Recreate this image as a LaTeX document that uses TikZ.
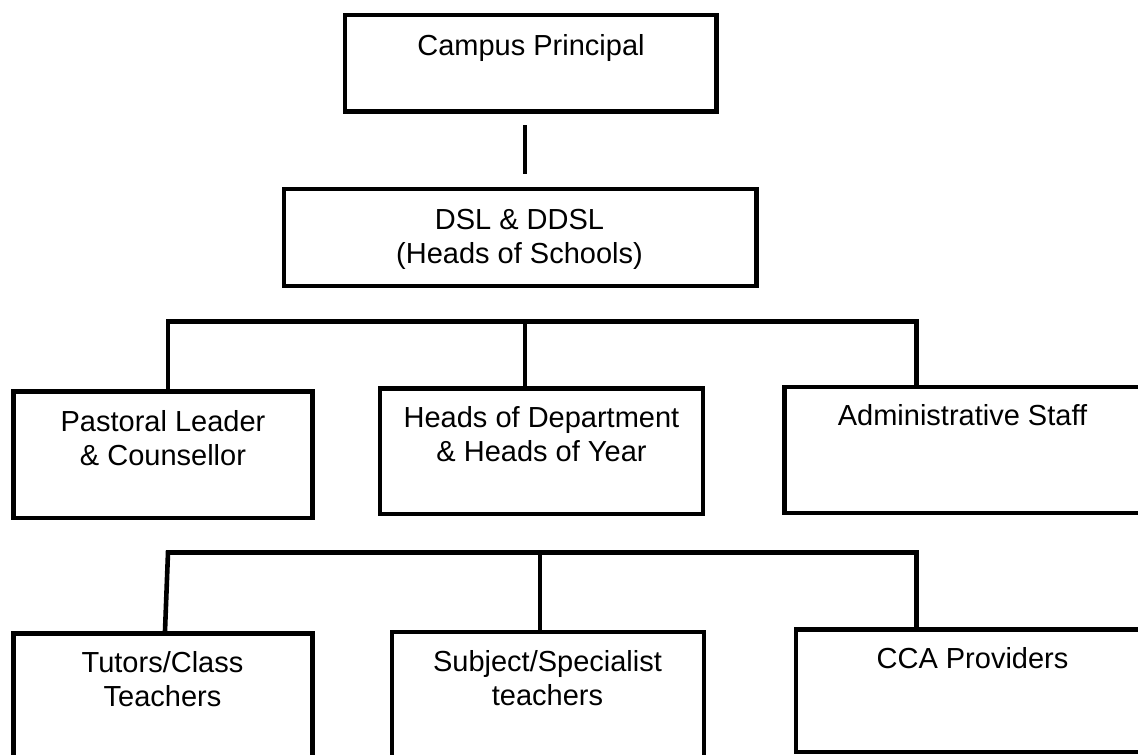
\documentclass[tikz,border=0pt]{standalone}
\usepackage{fontspec}
\setmainfont{Liberation Sans}
\usetikzlibrary{calc}
\tikzset{
  box/.style={draw, line width=4.6pt, inner sep=0pt},
  lbl/.style={font=\fontsize{29}{34}\selectfont, align=center, inner sep=0pt, anchor=base},
  link/.style={line width=4.6pt}
}
\begin{document}
\begin{tikzpicture}[x=1pt, y=-1pt]
\useasboundingbox (0,0) rectangle (1138,755);
\clip (0,0) rectangle (1138,755);
% boxes
\node[box, minimum width=371.5pt, minimum height=96.5pt] (cp)  at (530.75,63.25) {};
\node[box, minimum width=472.5pt, minimum height=97pt]   (dsl) at (520.25,237.5) {};
\node[box, minimum width=299.2pt, minimum height=126.3pt] (pl) at (162.9,454.85) {};
\node[box, minimum width=323pt, minimum height=125.7pt]  (hod) at (541.5,451.15) {};
\node[box, minimum width=365.5pt, minimum height=126pt]  (adm) at (967.25,450) {};
\node[box, minimum width=299.2pt, minimum height=156.5pt] (tut) at (162.9,711.75) {};
\node[box, minimum width=312pt, minimum height=158pt]    (sub) at (548,711) {};
\node[box, minimum width=354pt, minimum height=122.5pt]  (cca) at (973,690.75) {};
% labels (base = baseline of the last line)
\node[lbl] (cpT)  at (531,55)      {Campus Principal};
\node[lbl] (dslT) at (519.5,263.3) {DSL \& DDSL\\(Heads of Schools)};
\node[lbl] (plT)  at (163,465.7)   {Pastoral Leader\\\& Counsellor};
\node[lbl] (hodT) at (541.5,461.3) {Heads of Department\\\& Heads of Year};
\node[lbl] (admT) at (962.5,425)   {Administrative Staff};
\node[lbl] (tutT) at (162.5,706.7) {Tutors/Class\\Teachers};
\node[lbl] (subT) at (547.5,705.7) {Subject/Specialist\\teachers};
\node[lbl] (ccaT) at (972.5,668.3) {CCA Providers};
% connectors
\coordinate (j0) at (525,0);
\draw[link, shorten <=11.2pt, shorten >=13pt] (cp.south -| j0) -- (dsl.north -| j0);
\coordinate (b1L) at (168,321.5);
\coordinate (b1M) at (525,321.5);
\coordinate (b1R) at (916.5,321.5);
\draw[link] (pl.north -| b1L) -- (b1L) -- (b1R) -- (adm.north -| b1R);
\draw[link] (b1M) -- (hod.north -| b1M);
\coordinate (b2L) at (168,552.5);
\coordinate (b2M) at (540,552.5);
\coordinate (b2R) at (916.5,552.5);
\draw[link] ($(tut.north -| b2L)+(-3,0)$) -- (b2L) -- (b2R) -- (cca.north -| b2R);
\draw[link] (b2M) -- (sub.north -| b2M);
\end{tikzpicture}
\end{document}
